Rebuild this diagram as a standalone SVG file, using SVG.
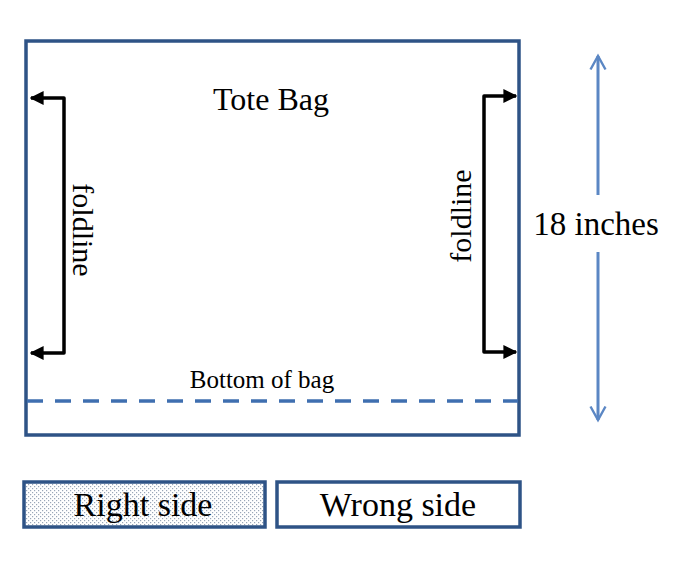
<svg xmlns="http://www.w3.org/2000/svg" width="684" height="566" viewBox="0 0 684 566">
<style>
.t{font-family:"Liberation Serif","Times New Roman",serif;fill:#000}
.box{fill:none;stroke:#2E5386;stroke-width:3.5}
.br{fill:none;stroke:#000;stroke-width:3.5;stroke-linejoin:round}
.dim{stroke:#5B87C4;stroke-width:3;fill:none}
</style>
<defs>
<marker id="ah" viewBox="0 0 10 10" refX="9" refY="5" markerWidth="4" markerHeight="4" orient="auto-start-reverse" markerUnits="strokeWidth">
<path d="M0,0 L10,5 L0,10 Z" fill="#000"/>
</marker>
<marker id="oh" viewBox="0 0 12 12" refX="10" refY="6" markerWidth="6" markerHeight="6" orient="auto-start-reverse" markerUnits="strokeWidth">
<path d="M1,1 L10,6 L1,11" fill="none" stroke="#5B87C4" stroke-width="1.6"/>
</marker>
<pattern id="dots" width="4" height="4" patternUnits="userSpaceOnUse">
<rect width="4" height="4" fill="#fff"/>
<rect x="0" y="0" width="1.2" height="1.2" fill="#9aa6b8"/>
<rect x="2" y="2" width="1.2" height="1.2" fill="#9aa6b8"/>
</pattern>
</defs>
<rect width="684" height="566" fill="#fff"/>
<g id="bag">
<rect x="26" y="41" width="493" height="394" class="box"/>
<text class="t" x="271" y="110" font-size="32" text-anchor="middle">Tote Bag</text>
</g>
<g id="bottom">
<line x1="27" y1="401" x2="518" y2="401" stroke="#3F6FB0" stroke-width="3.5" stroke-dasharray="16,12"/>
<text class="t" x="262" y="388" font-size="25" text-anchor="middle">Bottom of bag</text>
</g>
<g id="connectors">
<path class="br" d="M31,98 H64 V353 H31" marker-start="url(#ah)" marker-end="url(#ah)"/>
<path class="br" d="M516,96 H484 V352 H516" marker-start="url(#ah)" marker-end="url(#ah)"/>
<line class="dim" x1="598" y1="56" x2="598" y2="195" marker-start="url(#oh)"/>
<line class="dim" x1="598" y1="252" x2="598" y2="420" marker-end="url(#oh)"/>
</g>
<g id="foldline-left">
<text class="t" font-size="30" text-anchor="middle" transform="translate(73,230) rotate(90)">foldline</text>
</g>
<g id="foldline-right">
<text class="t" font-size="30" text-anchor="middle" transform="translate(471,216) rotate(-90)">foldline</text>
</g>
<g id="dimension">
<text class="t" x="596" y="235" font-size="33" text-anchor="middle">18 inches</text>
</g>
<g id="right-side">
<rect x="24" y="482" width="241" height="45" fill="url(#dots)" stroke="#2E5386" stroke-width="3.5"/>
<text class="t" x="143" y="516" font-size="34" text-anchor="middle">Right side</text>
</g>
<g id="wrong-side">
<rect x="277" y="482" width="243" height="45" class="box"/>
<text class="t" x="398" y="516" font-size="34" text-anchor="middle">Wrong side</text>
</g>
</svg>
